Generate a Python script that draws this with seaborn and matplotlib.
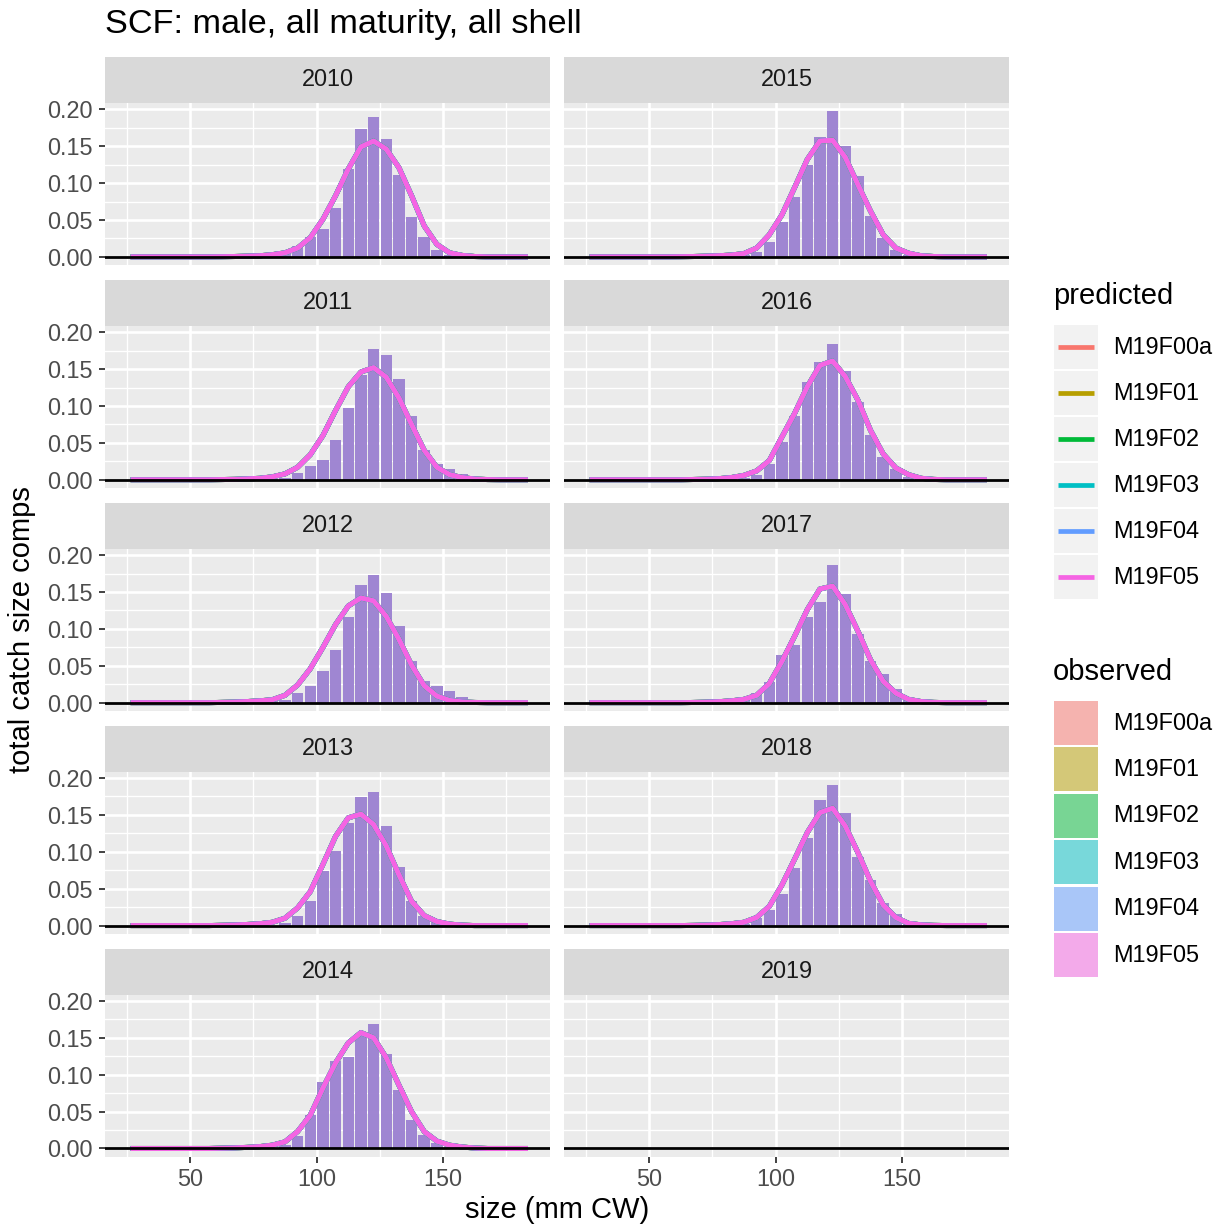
import pandas as pd
import seaborn as sns
import matplotlib.pyplot as plt
from matplotlib.patches import Rectangle
from matplotlib.ticker import FormatStrFormatter

plt.rcParams['font.family'] = ['Liberation Sans', 'DejaVu Sans']

# ---------------------------------------------------------------- data
models = ['M19F00a', 'M19F01', 'M19F02', 'M19F03', 'M19F04', 'M19F05']
model_colors = ['#F8766D', '#B79F00', '#00BA38', '#00BFC4', '#619CFF', '#F564E3']

# size bin centres (mm CW)
sizes = [27.5, 32.5, 37.5, 42.5, 47.5, 52.5, 57.5, 62.5, 67.5, 72.5, 77.5,
         82.5, 87.5, 92.5, 97.5, 102.5, 107.5, 112.5, 117.5, 122.5, 127.5,
         132.5, 137.5, 142.5, 147.5, 152.5, 157.5, 162.5, 167.5, 172.5,
         177.5, 182.5]

# observed size comps (same for every model)
obs_2010 = [0, 0, 0, 0, 0, 0, 0, 0, 0, 0, 0, 0.001, 0.004, 0.0145, 0.027,
            0.038, 0.066, 0.119, 0.173, 0.190, 0.160, 0.111, 0.054, 0.027,
            0.009, 0.002, 0.001, 0, 0, 0, 0, 0]
obs_2011 = [0, 0, 0, 0, 0, 0, 0, 0, 0, 0, 0, 0.001, 0.003, 0.0095, 0.018,
            0.027, 0.0545, 0.097, 0.142, 0.177, 0.169, 0.137, 0.086, 0.041,
            0.021, 0.015, 0.008, 0.002, 0, 0, 0, 0]
obs_2012 = [0, 0, 0, 0, 0, 0, 0, 0, 0, 0, 0, 0.002, 0.004, 0.0127, 0.022,
            0.0436, 0.071, 0.116, 0.160, 0.173, 0.149, 0.104, 0.056, 0.029,
            0.022, 0.016, 0.008, 0.002, 0, 0, 0, 0]
obs_2013 = [0, 0, 0, 0, 0, 0, 0, 0, 0, 0, 0, 0, 0.003, 0.0136, 0.0327,
            0.0736, 0.101, 0.1395, 0.1745, 0.181, 0.135, 0.079, 0.0327,
            0.0136, 0.0077, 0.003, 0.001, 0, 0, 0, 0, 0]
obs_2014 = [0, 0, 0, 0, 0, 0, 0, 0, 0, 0, 0, 0, 0.005, 0.017, 0.046, 0.090,
            0.119, 0.124, 0.152, 0.168, 0.128, 0.079, 0.039, 0.018, 0.008,
            0.002, 0, 0, 0, 0, 0, 0]
obs_2015 = [0, 0, 0, 0, 0, 0, 0, 0, 0, 0, 0, 0, 0.002, 0.006, 0.020, 0.047,
            0.081, 0.125, 0.163, 0.198, 0.150, 0.110, 0.056, 0.025, 0.0095,
            0.003, 0.001, 0, 0, 0, 0, 0]
obs_2016 = [0, 0, 0, 0, 0, 0, 0, 0, 0, 0, 0, 0, 0.002, 0.007, 0.022, 0.051,
            0.086, 0.133, 0.159, 0.184, 0.147, 0.106, 0.060, 0.031, 0.0145,
            0.004, 0.001, 0, 0, 0, 0, 0]
obs_2017 = [0, 0, 0, 0, 0, 0, 0, 0, 0, 0, 0, 0, 0.003, 0.0136, 0.0286,
            0.064, 0.078, 0.116, 0.137, 0.187, 0.147, 0.093, 0.057, 0.039,
            0.018, 0.006, 0.001, 0, 0, 0, 0, 0]
obs_2018 = [0, 0, 0, 0, 0, 0, 0, 0, 0, 0, 0, 0, 0.002, 0.010, 0.021, 0.043,
            0.078, 0.119, 0.170, 0.190, 0.153, 0.093, 0.062, 0.030, 0.0155,
            0.003, 0.001, 0, 0, 0, 0, 0]

# predicted size comps (models nearly identical)
pred_2010 = [0, 0, 0, 0, 0, 0, 0, 0.0002, 0.0005, 0.001, 0.0015, 0.003,
             0.0055, 0.012, 0.026, 0.051, 0.083, 0.119, 0.149, 0.157, 0.146,
             0.121, 0.083, 0.042, 0.017, 0.0055, 0.002, 0.0005, 0, 0, 0, 0]
pred_2011 = [0, 0, 0, 0, 0, 0, 0, 0.0003, 0.0006, 0.0012, 0.002, 0.004,
             0.008, 0.017, 0.034, 0.060, 0.094, 0.126, 0.146, 0.152, 0.139,
             0.111, 0.075, 0.040, 0.017, 0.007, 0.003, 0.001, 0.0003, 0, 0, 0]
pred_2012 = [0, 0, 0, 0, 0, 0, 0, 0.0004, 0.0008, 0.0015, 0.0025, 0.004,
             0.010, 0.024, 0.046, 0.075, 0.106, 0.131, 0.142, 0.138, 0.117,
             0.086, 0.051, 0.023, 0.009, 0.003, 0.001, 0.0003, 0, 0, 0, 0]
pred_2013 = [0, 0, 0, 0, 0, 0, 0, 0.0004, 0.0008, 0.0015, 0.0025, 0.0045,
             0.010, 0.024, 0.046, 0.083, 0.121, 0.146, 0.151, 0.137, 0.108,
             0.069, 0.033, 0.0136, 0.0055, 0.002, 0.0006, 0, 0, 0, 0, 0]
pred_2014 = [0, 0, 0, 0, 0, 0, 0, 0.0004, 0.0008, 0.0015, 0.0025, 0.0045,
             0.009, 0.023, 0.045, 0.082, 0.116, 0.143, 0.157, 0.150, 0.123,
             0.086, 0.050, 0.023, 0.010, 0.0045, 0.002, 0.0006, 0, 0, 0, 0]
pred_2015 = [0, 0, 0, 0, 0, 0, 0, 0.0002, 0.0005, 0.001, 0.0015, 0.0025,
             0.0045, 0.012, 0.030, 0.057, 0.094, 0.132, 0.157, 0.158, 0.135,
             0.098, 0.062, 0.030, 0.012, 0.005, 0.0015, 0.0005, 0, 0, 0, 0]
pred_2016 = [0, 0, 0, 0, 0, 0, 0, 0, 0.0004, 0.0008, 0.0015, 0.003, 0.006,
             0.012, 0.026, 0.058, 0.090, 0.126, 0.155, 0.161, 0.140, 0.108,
             0.067, 0.035, 0.016, 0.007, 0.002, 0.0005, 0, 0, 0, 0]
pred_2017 = [0, 0, 0, 0, 0, 0, 0, 0, 0.0003, 0.0007, 0.0013, 0.0025, 0.0045,
             0.010, 0.026, 0.056, 0.090, 0.126, 0.154, 0.158, 0.133, 0.097,
             0.058, 0.029, 0.013, 0.0045, 0.0015, 0.0004, 0, 0, 0, 0]
pred_2018 = [0, 0, 0, 0, 0, 0, 0, 0, 0.0003, 0.0007, 0.0013, 0.0025, 0.0045,
             0.011, 0.026, 0.055, 0.090, 0.126, 0.153, 0.159, 0.135, 0.099,
             0.060, 0.028, 0.011, 0.003, 0.001, 0.0003, 0, 0, 0, 0]

observed = {2010: obs_2010, 2011: obs_2011, 2012: obs_2012, 2013: obs_2013,
            2014: obs_2014, 2015: obs_2015, 2016: obs_2016, 2017: obs_2017,
            2018: obs_2018}
predicted = {2010: pred_2010, 2011: pred_2011, 2012: pred_2012,
             2013: pred_2013, 2014: pred_2014, 2015: pred_2015,
             2016: pred_2016, 2017: pred_2017, 2018: pred_2018}

# facet layout: left column 2010-2014, right column 2015-2019
left_years = [2010, 2011, 2012, 2013, 2014]
right_years = [2015, 2016, 2017, 2018, 2019]

# ---------------------------------------------------------------- figure
W, H = 1225, 1230
fig = plt.figure(figsize=(W / 100, H / 100), dpi=100)


def px_axes(left, top, width, height):
    return fig.add_axes([left / W, 1 - (top + height) / H, width / W, height / H])


def draw_panel(ax, year, first_col, last_row):
    ax.set_facecolor('#EBEBEB')
    if year in observed:
        # observed bars, one translucent layer per model
        for m, c in zip(models, model_colors):
            sns.barplot(x=sizes, y=observed[year], native_scale=True,
                        orient='x', color=c, alpha=0.5, width=0.9,
                        saturation=1, errorbar=None, linewidth=0, ax=ax)
        df = pd.DataFrame({'size': sizes * len(models),
                           'value': predicted[year] * len(models),
                           'model': [m for m in models for _ in sizes]})
        sns.lineplot(data=df, x='size', y='value', hue='model',
                     hue_order=models, palette=model_colors, linewidth=3.6,
                     estimator=None, legend=False, ax=ax)
    ax.axhline(0, color='black', lw=2.0, zorder=10)

    ax.set_xlim(16.4, 192.2)
    ax.set_ylim(-0.011, 0.2085)
    ax.set_xticks([50, 100, 150])
    ax.set_xticks([25, 75, 125, 175], minor=True)
    ax.set_yticks([0, 0.05, 0.10, 0.15, 0.20])
    ax.set_yticks([0.025, 0.075, 0.125, 0.175], minor=True)
    ax.yaxis.set_major_formatter(FormatStrFormatter('%.2f'))
    ax.grid(which='major', color='white', lw=1.9)
    ax.grid(which='minor', color='white', lw=0.95)
    ax.set_axisbelow(True)
    for s in ax.spines.values():
        s.set_visible(False)
    ax.set_xlabel('')
    ax.set_ylabel('')
    ax.tick_params(which='minor', length=0)
    ax.tick_params(axis='both', which='major', length=4.3, width=1.3,
                   color='#333333', labelcolor='#4D4D4D', labelsize=16.9)
    ax.tick_params(axis='y', pad=4.5)
    ax.tick_params(axis='x', pad=4.0)
    if not first_col:
        ax.tick_params(axis='y', length=0, labelleft=False)
    if not last_row:
        ax.tick_params(axis='x', length=0, labelbottom=False)


col_left = [105, 564]
panel_w = 445
strip_h = 46
panel_h = 162
row_pitch = 222.9
top0 = 57

for ci, years in enumerate([left_years, right_years]):
    for ri, year in enumerate(years):
        top = top0 + ri * row_pitch
        strip = px_axes(col_left[ci], top, panel_w, strip_h)
        strip.set_facecolor('#D9D9D9')
        strip.set_xticks([])
        strip.set_yticks([])
        for s in strip.spines.values():
            s.set_visible(False)
        strip.text(0.5, 0.5, str(year), ha='center', va='center',
                   fontsize=16.9, color='#1A1A1A', transform=strip.transAxes)
        ax = px_axes(col_left[ci], top + strip_h, panel_w, panel_h)
        draw_panel(ax, year, ci == 0, ri == 4)

# titles
fig.text(105 / W, 1 - 33 / H, 'SCF: male, all maturity, all shell',
         fontsize=24.7, ha='left', va='baseline', color='black')
fig.text(557 / W, 1 - 1210 / H, 'size (mm CW)', fontsize=21,
         ha='center', va='center')
fig.text(22 / W, 1 - 630 / H, 'total catch size comps', fontsize=21,
         ha='center', va='center', rotation=90)

# legends (ggplot style), drawn in pixel coordinates
lg = fig.add_axes([0, 0, 1, 1], facecolor='none')
lg.set_xlim(0, W)
lg.set_ylim(H, 0)
lg.axis('off')

lg.text(1053, 296, 'predicted', fontsize=21, ha='left', va='center')
for i, (m, c) in enumerate(zip(models, model_colors)):
    yc = 347 + i * 46
    lg.add_patch(Rectangle((1054, yc - 22), 44, 44, facecolor='#F2F2F2',
                           edgecolor='none'))
    lg.plot([1058, 1094], [yc, yc], color=c, lw=3.4, solid_capstyle='butt')
    lg.text(1113, yc, m, fontsize=16.9, ha='left', va='center')

lg.text(1053, 672, 'observed', fontsize=21, ha='left', va='center')
for i, (m, c) in enumerate(zip(models, model_colors)):
    yc = 723 + i * 46.4
    lg.add_patch(Rectangle((1054, yc - 22), 44, 44, facecolor='#F2F2F2',
                           edgecolor='none'))
    lg.add_patch(Rectangle((1054, yc - 22), 44, 44, facecolor=c, alpha=0.5,
                           edgecolor='none'))
    lg.text(1113, yc, m, fontsize=16.9, ha='left', va='center')

fig.savefig('out.png', dpi=100, facecolor='white')
